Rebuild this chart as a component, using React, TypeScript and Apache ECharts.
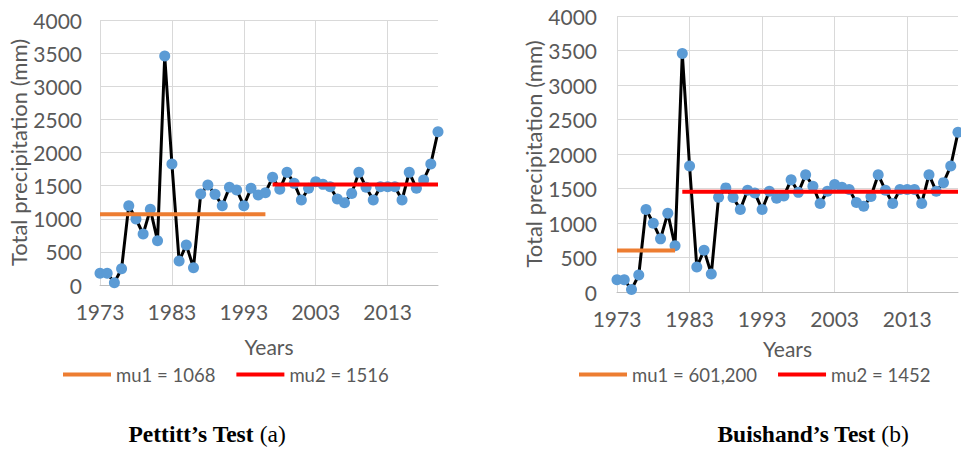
import React, { useEffect, useRef } from "react";
import * as echarts from "echarts";

const years = [
  1973, 1974, 1975, 1976, 1977, 1978, 1979, 1980, 1981, 1982,
  1983, 1984, 1985, 1986, 1987, 1988, 1989, 1990, 1991, 1992,
  1993, 1994, 1995, 1996, 1997, 1998, 1999, 2000, 2001, 2002,
  2003, 2004, 2005, 2006, 2007, 2008, 2009, 2010, 2011, 2012,
  2013, 2014, 2015, 2016, 2017, 2018, 2019, 2020,
];

const precipitation = [
  176, 176, 35, 246, 1197, 996, 770, 1142, 669, 3456,
  1826, 362, 604, 262, 1373, 1509, 1368, 1197, 1474, 1434,
  1197, 1459, 1358, 1393, 1625, 1444, 1700, 1534, 1283, 1459,
  1559, 1519, 1484, 1298, 1242, 1383, 1700, 1474, 1283, 1484,
  1484, 1484, 1283, 1700, 1459, 1585, 1826, 2314,
];

const pettittMu1 = { label: "mu1 = 1068", value: 1068, from: 1973, to: 1996 };
const pettittMu2 = { label: "mu2 = 1516", value: 1516, from: 1997, to: 2020 };
const buishandMu1 = { label: "mu1 = 601,200", value: 601.2, from: 1973, to: 1981 };
const buishandMu2 = { label: "mu2 = 1452", value: 1452, from: 1982, to: 2020 };

const panelTitles = [
  { bold: "Pettitt’s Test", normal: "(a)" },
  { bold: "Buishand’s Test", normal: "(b)" },
];

const AXIS_FONT = "Lato, 'Open Sans', sans-serif";
const axisText = { color: "#595959", fontFamily: AXIS_FONT, fontSize: 21 };

export default function App() {
  const ref = useRef<HTMLDivElement>(null);

  useEffect(() => {
    if (!ref.current) return;
    const chart = echarts.init(ref.current, undefined, { renderer: "svg" });

    const seriesData = years.map((y, k) => [y, precipitation[k]]);
    const meanSeries = (m: any, color: string, idx: number) => ({
      type: "line",
      name: m.label,
      xAxisIndex: idx,
      yAxisIndex: idx,
      data: [
        [m.from, m.value],
        [m.to, m.value],
      ],
      symbol: "none",
      lineStyle: { color, width: 4 },
      itemStyle: { color },
      z: 4,
    });

    const xAxis = [0, 1].map((i) => ({
      type: "value",
      gridIndex: i,
      min: 1973,
      max: 2020,
      interval: 10,
      name: "Years",
      nameLocation: "middle",
      nameGap: i === 0 ? 51 : 46,
      nameTextStyle: { ...axisText },
      axisLine: { show: true, lineStyle: { color: "#bfbfbf", width: 1 } },
      axisTick: { show: false },
      axisLabel: {
        ...axisText,
        margin: 16,
        formatter: (v: number) => ((v - 1973) % 10 === 0 ? String(v) : ""),
      },
      splitLine: {
        show: true,
        showMaxLine: false,
        lineStyle: { color: "#d9d9d9", width: 1 },
      },
    }));

    const yAxis = [0, 1].map((i) => ({
      type: "value",
      gridIndex: i,
      min: 0,
      max: 4000,
      interval: 500,
      name: "Total precipitation (mm)",
      nameLocation: "middle",
      nameRotate: 90,
      nameGap: 70,
      nameTextStyle: { ...axisText, fontSize: 22 },
      axisLine: { show: false },
      axisTick: { show: false },
      axisLabel: {
        ...axisText,
        margin: i === 0 ? 18 : 20,
        formatter: (v: number) => String(v),
      },
      splitLine: { show: true, lineStyle: { color: "#d9d9d9", width: 1 } },
    }));

    const legendCommon = {
      orient: "horizontal",
      icon: "rect",
      itemWidth: 48,
      itemHeight: 4,
      itemGap: 21,
      textStyle: { ...axisText, fontSize: 18.5 },
    };

    chart.setOption({
      animation: false,
      backgroundColor: "#ffffff",
      grid: [
        { left: 100, right: 523, top: 20, bottom: 166 },
        { left: 617, right: -5, top: 16, bottom: 159 },
      ],
      xAxis,
      yAxis,
      legend: [
        { ...legendCommon, left: 58, top: 360, data: [pettittMu1.label, pettittMu2.label] },
        { ...legendCommon, left: 574, top: 360, data: [buishandMu1.label, buishandMu2.label] },
      ],
      series: [
        {
          type: "line",
          name: "Pettitt",
          xAxisIndex: 0,
          yAxisIndex: 0,
          data: seriesData,
          symbol: "circle",
          symbolSize: 11,
          lineStyle: { color: "#000000", width: 3 },
          itemStyle: { color: "#5B9BD5" },
          z: 2,
        },
        meanSeries(pettittMu1, "#ED7D31", 0),
        meanSeries(pettittMu2, "#FF0000", 0),
        {
          type: "line",
          name: "Buishand",
          xAxisIndex: 1,
          yAxisIndex: 1,
          data: seriesData,
          symbol: "circle",
          symbolSize: 11,
          lineStyle: { color: "#000000", width: 3 },
          itemStyle: { color: "#5B9BD5" },
          z: 2,
        },
        meanSeries(buishandMu1, "#ED7D31", 1),
        meanSeries(buishandMu2, "#FF0000", 1),
      ],
      graphic: panelTitles.map((t, i) => ({
        type: "text",
        x: i === 0 ? 207 : 813,
        y: 434,
        style: {
          text: `{b|${t.bold} }{n|${t.normal}}`,
          align: "center",
          verticalAlign: "middle",
          rich: {
            b: {
              fontFamily: "'Liberation Serif', 'Times New Roman', serif",
              fontWeight: "bold",
              fontSize: 23.5,
              fill: "#000",
              color: "#000",
            },
            n: {
              fontFamily: "'Liberation Serif', 'Times New Roman', serif",
              fontWeight: "normal",
              fontSize: 23.5,
              fill: "#000",
              color: "#000",
            },
          },
        },
      })),
    });

    return () => chart.dispose();
  }, []);

  return (
    <div
      ref={ref}
      style={{ position: "absolute", left: 0, top: 0, width: 961, height: 451 }}
    />
  );
}
